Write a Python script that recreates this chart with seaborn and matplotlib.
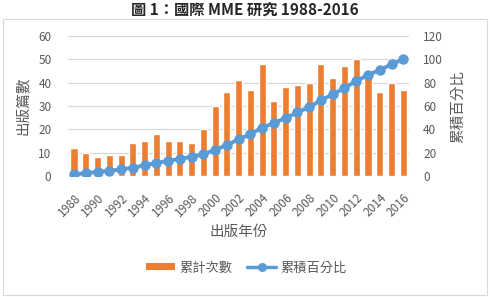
import numpy as np
import pandas as pd
import seaborn as sns
import matplotlib
matplotlib.use("Agg")
import matplotlib.pyplot as plt
from matplotlib.patches import Rectangle, Patch
from matplotlib.lines import Line2D

years = list(range(1988, 2017))
counts = [12, 10, 8, 9, 9, 14, 15, 18, 15, 15, 14, 20, 30, 36, 41, 37, 48,
          32, 38, 39, 40, 48, 42, 47, 50, 44, 36, 40, 37]
cum_pct = [1.4, 2.6, 3.6, 4.6, 5.7, 7.3, 9.1, 11.3, 13.0, 14.8, 16.5, 18.8,
           22.4, 26.7, 31.5, 35.9, 41.6, 45.4, 49.9, 54.5, 59.2, 64.9, 69.9,
           75.5, 81.4, 86.6, 90.9, 95.6, 100.0]
left_ticks = [0, 10, 20, 30, 40, 50, 60]
right_ticks = [0, 20, 40, 60, 80, 100, 120]

bar_color = "#ED7D31"
line_color = "#5B9BD5"
grid_color = "#D9D9D9"
text_color = "#595959"

sns.set_theme(style="white")
plt.rcParams['font.family'] = ['Noto Sans CJK TC', 'DejaVu Sans']

df = pd.DataFrame({"year": years, "count": counts, "pct": cum_pct})

fig = plt.figure(figsize=(4.9, 2.97), dpi=100)
ax = fig.add_axes([0.139, 0.407, 0.696, 0.472])

sns.barplot(data=df, x="year", y="count", native_scale=True, color=bar_color,
            saturation=1, width=0.6, ax=ax, zorder=2)
ax.set_ylim(0, 60)
ax.set_xlim(1987.5, 2016.5)
ax.set_yticks(left_ticks)
ax.set_xticks(years[::2])
ax.set_xticklabels([str(y) for y in years[::2]], rotation=45, ha="right",
                   rotation_mode="anchor")
ax.yaxis.grid(True, color=grid_color, linewidth=0.9, zorder=0)
ax.set_axisbelow(True)
for s in ax.spines.values():
    s.set_visible(False)
ax.tick_params(axis="y", length=0, labelsize=8.5, labelcolor=text_color, pad=12)
ax.tick_params(axis="x", length=0, labelsize=8.5, labelcolor=text_color, pad=11)
ax.set_xlabel("出版年份", fontsize=10.5, color=text_color, labelpad=4)
ax.set_ylabel("出版篇數", fontsize=10.5, color=text_color, labelpad=6)

ax2 = ax.twinx()
sns.lineplot(data=df, x="year", y="pct", color=line_color, linewidth=2.8,
             marker="o", markersize=7.5, markeredgewidth=0, ax=ax2, zorder=3)
ax2.set_ylim(0, 120)
ax2.set_yticks(right_ticks)
for s in ax2.spines.values():
    s.set_visible(False)
ax2.tick_params(axis="y", length=0, labelsize=8.5, labelcolor=text_color, pad=10)
ax2.set_ylabel("累積百分比", fontsize=10.5, color=text_color, labelpad=6)
ax2.set_xlabel("")

fig.text(0.5, 0.967, "圖 1：國際 MME 研究 1988-2016", ha="center", va="center",
         fontsize=11, fontweight="bold", color="#262626")

fig.patches.append(Rectangle((0.006, 0.006), 0.988, 0.93, transform=fig.transFigure,
                             fill=False, edgecolor=grid_color, linewidth=0.8))

handles = [Patch(facecolor=bar_color, edgecolor="none"),
           Line2D([0], [0], color=line_color, linewidth=2.5, marker="o",
                  markersize=6.5, markeredgewidth=0)]
fig.legend(handles, ["累計次數", "累積百分比"], loc="center", ncol=2,
           bbox_to_anchor=(0.503, 0.098), frameon=False, fontsize=9.5,
           labelcolor=text_color, handlelength=2.2, handleheight=0.5,
           columnspacing=1.1, handletextpad=0.35)

fig.savefig("out.png", dpi=100)
